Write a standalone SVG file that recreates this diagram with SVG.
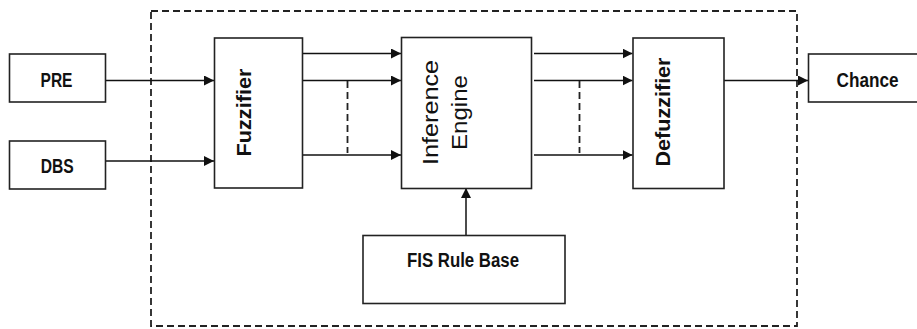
<svg xmlns="http://www.w3.org/2000/svg" width="917" height="329" viewBox="0 0 917 329">
<defs>
<style>
.box{fill:#fff;stroke:#222;stroke-width:1.6}
.lbl{font-family:"Liberation Sans",Arial,sans-serif;font-weight:bold;font-size:20px;fill:#111}
.lblr{font-family:"Liberation Sans",Arial,sans-serif;font-size:22px;fill:#111}
.ln{fill:none;stroke:#111;stroke-width:1.5}
.dash{fill:none;stroke:#222;stroke-width:1.8;stroke-dasharray:7 4}
</style>
<marker id="ah" viewBox="0 0 10 10" refX="10" refY="5" markerWidth="10" markerHeight="10" markerUnits="userSpaceOnUse" orient="auto">
<path d="M0,0 L10,5 L0,10 Z" fill="#111"/>
</marker>
</defs>
<rect width="917" height="329" fill="#fff"/>
<rect x="151" y="11" width="646" height="315" class="dash"/>
<g id="connectors">
<line x1="106" y1="80.5" x2="214" y2="80.5" class="ln" marker-end="url(#ah)"/>
<line x1="106" y1="161" x2="214" y2="161" class="ln" marker-end="url(#ah)"/>
<line x1="302" y1="53.5" x2="401" y2="53.5" class="ln" marker-end="url(#ah)"/>
<line x1="302" y1="80.5" x2="401" y2="80.5" class="ln" marker-end="url(#ah)"/>
<line x1="302" y1="155" x2="401" y2="155" class="ln" marker-end="url(#ah)"/>
<line x1="347.5" y1="81" x2="347.5" y2="153" class="dash" stroke-dasharray="8 4"/>
<line x1="534" y1="53.5" x2="632.5" y2="53.5" class="ln" marker-end="url(#ah)"/>
<line x1="534" y1="80.5" x2="632.5" y2="80.5" class="ln" marker-end="url(#ah)"/>
<line x1="534" y1="155" x2="632.5" y2="155" class="ln" marker-end="url(#ah)"/>
<line x1="579.5" y1="81" x2="579.5" y2="153" class="dash" stroke-dasharray="8 4"/>
<line x1="719" y1="80.5" x2="808" y2="80.5" class="ln" marker-end="url(#ah)"/>
<line x1="466" y1="235" x2="466" y2="188" class="ln" marker-end="url(#ah)"/>
</g>
<g id="pre">
<rect x="9.5" y="54" width="96" height="48" class="box"/>
<text x="56.5" y="86.7" class="lbl" text-anchor="middle" textLength="32" lengthAdjust="spacingAndGlyphs">PRE</text>
</g>
<g id="dbs">
<rect x="9.5" y="141" width="96" height="48" class="box"/>
<text x="57.3" y="173.3" class="lbl" text-anchor="middle" textLength="33" lengthAdjust="spacingAndGlyphs">DBS</text>
</g>
<g id="fuzzifier">
<rect x="214.5" y="38" width="88" height="150" class="box"/>
<text transform="translate(251,112.5) rotate(-90)" class="lbl" text-anchor="middle" textLength="88" lengthAdjust="spacingAndGlyphs">Fuzzifier</text>
</g>
<g id="inference">
<rect x="401.5" y="37.5" width="130" height="151" class="box"/>
<text transform="translate(437.5,112.5) rotate(-90)" class="lblr" text-anchor="middle" textLength="105" lengthAdjust="spacingAndGlyphs">Inference</text>
<text transform="translate(467,112.5) rotate(-90)" class="lblr" text-anchor="middle" textLength="75" lengthAdjust="spacingAndGlyphs">Engine</text>
</g>
<g id="defuzzifier">
<rect x="633" y="38" width="91" height="150.5" class="box"/>
<text transform="translate(669.5,112) rotate(-90)" class="lbl" text-anchor="middle" textLength="109" lengthAdjust="spacingAndGlyphs">Defuzzifier</text>
</g>
<g id="chance">
<rect x="808.5" y="54" width="120" height="48" class="box"/>
<text x="867.5" y="87.3" class="lbl" text-anchor="middle" textLength="62" lengthAdjust="spacingAndGlyphs">Chance</text>
</g>
<g id="fis">
<rect x="363" y="235.5" width="202" height="68" class="box"/>
<text x="463" y="267.3" class="lbl" text-anchor="middle" textLength="112" lengthAdjust="spacingAndGlyphs">FIS Rule Base</text>
</g>
</svg>
